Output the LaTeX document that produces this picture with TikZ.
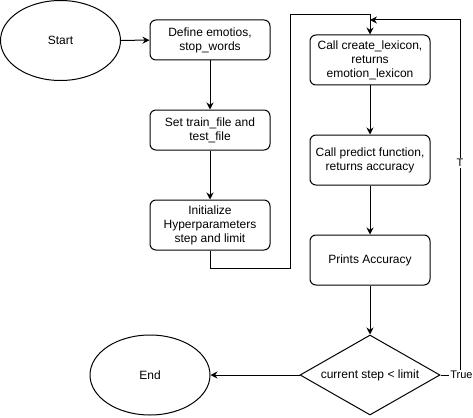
\documentclass[tikz,border=0pt]{standalone}
\usepackage{fontspec}
\setmainfont{Liberation Sans}
\usetikzlibrary{shapes.geometric,arrows.meta}
\begin{document}
\begin{tikzpicture}[x=1pt,y=-1pt,
  every node/.style={font=\fontsize{12}{14}\selectfont},
  stepbox/.style={draw,line width=1pt,rectangle,rounded corners=6pt,minimum width=120pt,inner sep=0pt,align=center},
  term/.style={draw,line width=1pt,ellipse,minimum width=120pt,minimum height=80pt,inner sep=0pt},
  decision/.style={draw,line width=1pt,diamond,aspect=1.75,minimum width=140pt,minimum height=80pt,inner sep=0pt},
  arr/.style={line width=1pt,-{Stealth[length=7pt,width=7pt]}},
  lbl/.style={fill=white,inner sep=1pt,font=\fontsize{11}{13}\selectfont}]
\useasboundingbox (0,0) rectangle (473,417);
\node[term] (start) at (60.5,40.5) {Start};
\node[stepbox,minimum height=40pt] (b1) at (210,40) {Define emotios,\\stop\_words};
\node[stepbox,minimum height=40pt] (b2) at (210,130) {Set train\_file and\\test\_file};
\node[stepbox,minimum height=50pt] (b3) at (210,225) {Initialize\\Hyperparameters\\step and limit};
\node[stepbox,minimum height=50pt] (b4) at (370,60) {Call create\_lexicon,\\returns\\emotion\_lexicon};
\node[stepbox,minimum height=50pt] (b5) at (370,160) {Call predict function,\\returns accuracy};
\node[stepbox,minimum height=50pt] (b6) at (370,260) {Prints Accuracy};
\node[decision] (dec) at (370,375) {current step < limit};
\node[term] (end) at (150,375) {End};
\coordinate (c1) at (290,268);
\coordinate (c2) at (290,15);
\coordinate (c3) at (460,375);
\coordinate (c4) at (460,20);
\coordinate (c5) at (370,20);
\draw[arr] (start) -- (b1);
\draw[arr] (b1) -- (b2);
\draw[arr] (b2) -- (b3);
\draw[arr] (b3.south) |- (c1) -- (c2) -| (b4.north);
\draw[arr] (b4) -- (b5);
\draw[arr] (b5) -- (b6);
\draw[arr] (b6) -- (dec);
\draw[arr] (dec) -- (end);
\draw[arr] (dec.east) -- (c3) -- (c4) -- (c5);
\node[lbl] (t1) at (461.5,375) {True};
\node[lbl] (t2) at (460,163) {T};
\end{tikzpicture}
\end{document}
